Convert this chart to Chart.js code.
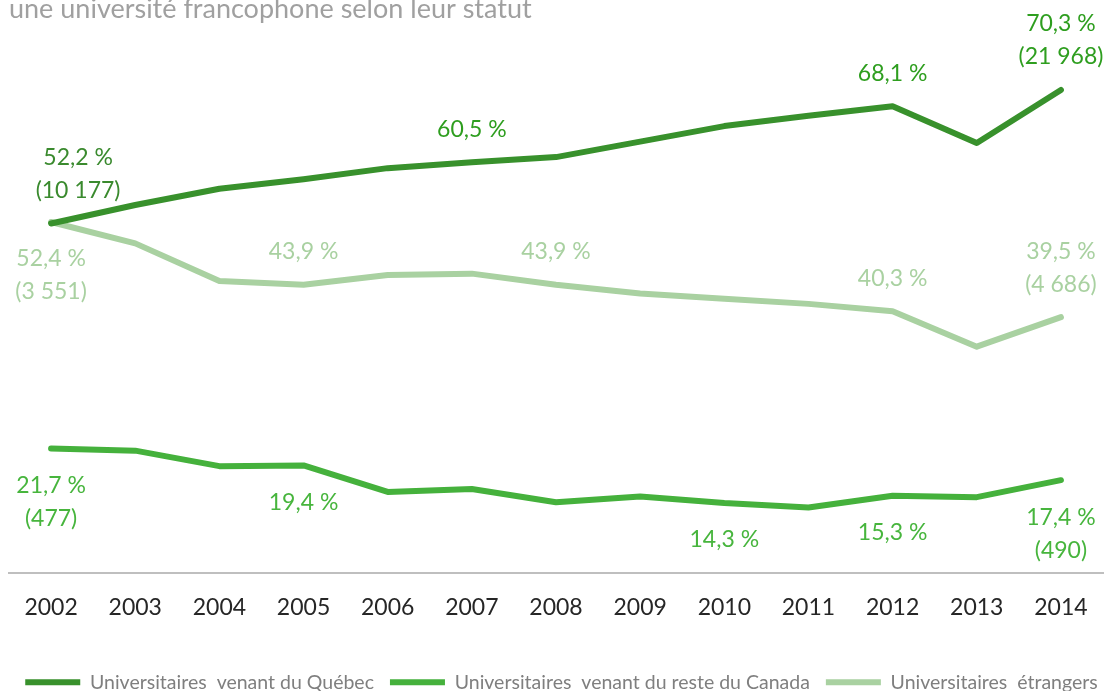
<!DOCTYPE html>
<html>
<head>
<meta charset="utf-8">
<script src="https://cdn.jsdelivr.net/npm/chart.js@4.4.1/dist/chart.umd.min.js"></script>
<style>
  html, body { margin: 0; padding: 0; background: #fff; overflow: hidden; }
  #wrap { position: absolute; left: 0; top: -10px; width: 1114px; height: 712px; }
</style>
</head>
<body>
<div id="wrap"><canvas id="myChart"></canvas></div>
<script>
const years = ['2002', '2003', '2004', '2005', '2006', '2007', '2008', '2009', '2010', '2011', '2012', '2013', '2014'];

// % des universitaires selon le statut
const quebec    = [52.2, 54.7, 56.9, 58.2, 59.7, 60.5, 61.2, 63.3, 65.4, 66.8, 68.1, 63.1, 70.3];
const canada    = [21.7, 21.4, 19.3, 19.4, 15.8, 16.2, 14.4, 15.2, 14.3, 13.7, 15.3, 15.1, 17.4];
const etrangers = [52.4, 49.5, 44.4, 43.9, 45.2, 45.4, 43.9, 42.7, 42.0, 41.3, 40.3, 35.5, 39.5];

// étiquettes affichées sur certains points
const quebecLabels    = [['52,2 %', '(10 177)'], null, null, null, null, ['60,5 %'], null, null, null, null, ['68,1 %'], null, ['70,3 %', '(21 968)']];
const canadaLabels    = [['21,7 %', '(477)'], null, null, ['19,4 %'], null, null, null, null, ['14,3 %'], null, ['15,3 %'], null, ['17,4 %', '(490)']];
const etrangersLabels = [['52,4 %', '(3 551)'], null, null, ['43,9 %'], null, null, ['43,9 %'], null, null, null, ['40,3 %'], null, ['39,5 %', '(4 686)']];

const pointLabels = {
    id: 'pointLabels',
    afterDatasetsDraw(chart) {
        const ctx = chart.ctx;
        ctx.save();
        ctx.font = '23px Lato';
        ctx.textAlign = 'center';
        ctx.textBaseline = 'middle';
        chart.data.datasets.forEach((ds, d) => {
            const meta = chart.getDatasetMeta(d);
            ds.pointTexts.forEach((lines, i) => {
                if (!lines) return;
                const pt = meta.data[i];
                let side = ds.textSide;
                if (d === 2 && i === 0) side = 'below'; // 2002 étrangers sous la ligne
                let dx = 0;
                if (d === 0 && i === 0) dx = 27;
                ctx.fillStyle = (d === 0 && i === 0) ? '#3a8a2e' : ds.textColor;
                lines.forEach((t, k) => {
                    let y;
                    if (side === 'above') y = pt.y - 33 - (lines.length - 1 - k) * 33;
                    else y = pt.y + 37 + k * 33;
                    ctx.fillText(t, pt.x + dx, y);
                });
            });
        });
        ctx.restore();
    }
};

const lineStyle = {
    borderWidth: 6,
    pointRadius: 0,
    pointHoverRadius: 0,
    borderCapStyle: 'round',
    borderJoinStyle: 'round',
    tension: 0,
    fill: false,
};

new Chart('myChart', {
    type: 'line',
    data: {
        labels: years,
        datasets: [
            {
                ...lineStyle,
                label: 'Universitaires  venant du Québec',
                data: quebec,
                borderColor: '#38912c',
                backgroundColor: '#38912c',
                pointTexts: quebecLabels,
                textSide: 'above',
                textColor: '#2e9e1f',
            },
            {
                ...lineStyle,
                label: 'Universitaires  venant du reste du Canada',
                data: canada,
                borderColor: '#45b13c',
                backgroundColor: '#45b13c',
                pointTexts: canadaLabels,
                textSide: 'below',
                textColor: '#47b53d',
            },
            {
                ...lineStyle,
                label: 'Universitaires  étrangers',
                data: etrangers,
                borderColor: '#a9d1a1',
                backgroundColor: '#a9d1a1',
                pointTexts: etrangersLabels,
                textSide: 'above',
                textColor: '#a9d1a1',
            },
        ],
    },
    options: {
        responsive: true,
        maintainAspectRatio: false,
        animation: false,
        layout: { padding: { left: 9, right: 0, top: 0, bottom: 0 } },
        scales: {
            x: {
                offset: true,
                grid: { display: false, drawTicks: false },
                border: { display: true, color: '#bfbfbf', width: 2 },
                ticks: { padding: 21, color: '#262626', font: { family: 'Lato', size: 23 } },
                afterFit: (scale) => { scale.height = 84; },
            },
            y: { display: false, min: 4.885, max: 79.05 },
            // marge à droite de la zone de tracé
            yRight: {
                position: 'right',
                display: true,
                grid: { display: false },
                border: { display: false },
                ticks: { display: false },
                afterFit: (scale) => { scale.width = 11; },
            },
        },
        plugins: {
            title: {
                display: true,
                text: 'une université francophone selon leur statut',
                align: 'start',
                color: '#a0a0a0',
                font: { family: 'Lato', size: 27, weight: 'normal' },
                padding: { top: 3, bottom: 0 },
            },
            legend: {
                position: 'bottom',
                labels: {
                    usePointStyle: true,
                    pointStyle: 'line',
                    pointStyleWidth: 55,
                    color: '#7f7f7f',
                    font: { family: 'Lato', size: 19.5 },
                    padding: 16,
                },
            },
            tooltip: { enabled: false },
        },
    },
    plugins: [pointLabels],
});
</script>
</body>
</html>
